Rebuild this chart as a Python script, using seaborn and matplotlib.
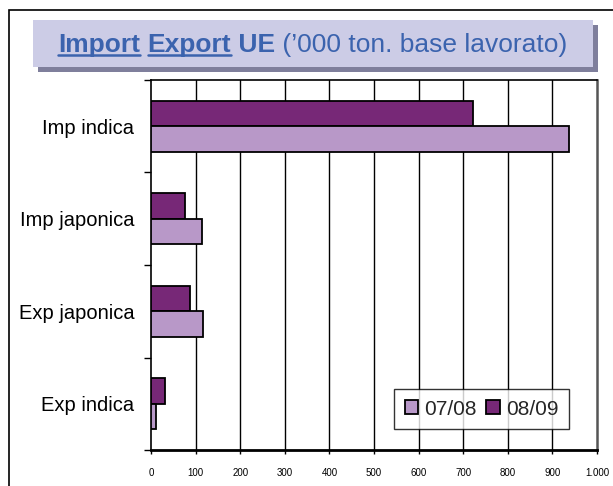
import matplotlib
matplotlib.use("Agg")
import matplotlib.pyplot as plt
import seaborn as sns
import pandas as pd
from matplotlib.patches import Rectangle, Patch
from matplotlib.ticker import FixedLocator, FuncFormatter

categories = ["Imp indica", "Imp japonica", "Exp japonica", "Exp indica"]
season_0708 = [937, 115, 117, 12]
season_0809 = [721, 76, 88, 31]
seasons = ["07/08", "08/09"]
colors = {"07/08": "#B898C8", "08/09": "#772877"}
xticks = [0, 100, 200, 300, 400, 500, 600, 700, 800, 900, 1000]

df = pd.DataFrame({
    "cat": categories * 2,
    "val": season_0708 + season_0809,
    "season": ["07/08"] * 4 + ["08/09"] * 4,
})

sns.set_theme(style="white")
plt.rcParams["font.family"] = ["Liberation Sans", "DejaVu Sans"]

W, H = 613, 486
fig = plt.figure(figsize=(W / 100, H / 100), dpi=100)
fig.patch.set_facecolor("white")

# outer frame (left/top visible)
fig.patches.append(Rectangle((9 / W, -0.1), 1.2, 1 - 10 / H + 0.1, transform=fig.transFigure,
                             fill=False, edgecolor="black", linewidth=1.2, zorder=0))

# title box with shadow
bx0, bx1, by0, by1 = 33, 593, 20, 67
fig.patches.append(Rectangle(((bx0 + 5) / W, 1 - (by1 + 5) / H), (bx1 - bx0) / W, (by1 - by0) / H,
                             transform=fig.transFigure, facecolor="#7F7F9C", edgecolor="none", zorder=1))
fig.patches.append(Rectangle((bx0 / W, 1 - by1 / H), (bx1 - bx0) / W, (by1 - by0) / H,
                             transform=fig.transFigure, facecolor="#CCCCE6", edgecolor="none", zorder=2))

ax = fig.add_axes([151 / W, 1 - 450 / H, (597 - 151) / W, (450 - 80) / H])
sns.barplot(data=df, x="val", y="cat", hue="season", hue_order=["08/09", "07/08"],
            order=categories, palette=colors, orient="h", width=0.555, saturation=1,
            edgecolor="black", linewidth=1.3, ax=ax, legend=False, zorder=3)

ax.set_xlim(0, 1000)
ax.set_ylim(3.5, -0.5)
ax.set_xlabel("")
ax.set_ylabel("")
ax.xaxis.set_major_locator(FixedLocator(xticks))
ax.xaxis.set_major_formatter(FuncFormatter(lambda v, p: f"{int(v):,}".replace(",", ".")))
ax.tick_params(axis="x", which="major", length=3, width=1, color="black", labelsize=7, pad=10,
               direction="out", bottom=True, labelcolor="black")
ax.set_yticks(range(len(categories)))
ax.set_yticklabels(categories)
ax.tick_params(axis="y", which="major", length=0, labelsize=14.5, pad=12, labelcolor="black")
ax.set_yticks([-0.5, 0.5, 1.5, 2.5, 3.5], minor=True)
ax.tick_params(axis="y", which="minor", length=5, width=1, color="black", direction="out", left=True)

for x in xticks[1:-1]:
    ax.axvline(x, color="black", linewidth=1, zorder=1)

for s in ["left", "top"]:
    ax.spines[s].set_visible(True)
    ax.spines[s].set_color("black")
    ax.spines[s].set_linewidth(1.2)
ax.spines["right"].set_color("#555555")
ax.spines["right"].set_linewidth(1.8)
ax.spines["bottom"].set_color("black")
ax.spines["bottom"].set_linewidth(2)
ax.set_facecolor("white")

handles = [Patch(facecolor=colors[s], edgecolor="black", linewidth=1.3, label=s) for s in seasons]
leg = ax.legend(handles=handles, loc="lower right", bbox_to_anchor=((569 - 151) / 446, (450 - 429) / 370),
                ncol=2, fontsize=15, frameon=True, fancybox=False, handlelength=0.65, handleheight=0.65,
                handletextpad=0.3, columnspacing=0.45, borderpad=0.5, borderaxespad=0)
leg.get_frame().set_edgecolor("black")
leg.get_frame().set_linewidth(1)
leg.set_zorder(10)

# title with mixed weights
fig.canvas.draw()
renderer = fig.canvas.get_renderer()
parts = [("Import", "bold", True), (" ", "bold", False), ("Export", "bold", True),
         (" UE", "bold", False), (" (\u2019000 ton. base lavorato)", "normal", False)]
tcolor = "#3B63AE"
fs = 19
texts = []
for txt, wt, ul in parts:
    t = fig.text(0, 0, txt, fontsize=fs, fontweight=wt, color=tcolor, va="baseline", ha="left", zorder=5)
    texts.append((t, ul))
widths = [t.get_window_extent(renderer).width for t, _ in texts]
total = sum(widths)
cx = (bx0 + bx1) / 2
x = cx - total / 2
base_y = H - 52
for (t, ul), w in zip(texts, widths):
    t.set_position((x / W, base_y / H))
    if ul:
        fig.add_artist(plt.Line2D([x / W, (x + w) / W], [(base_y - 3.5) / H] * 2,
                                  transform=fig.transFigure, color=tcolor, linewidth=1.8, zorder=5))
    x += w

fig.savefig("out.png", dpi=100)
